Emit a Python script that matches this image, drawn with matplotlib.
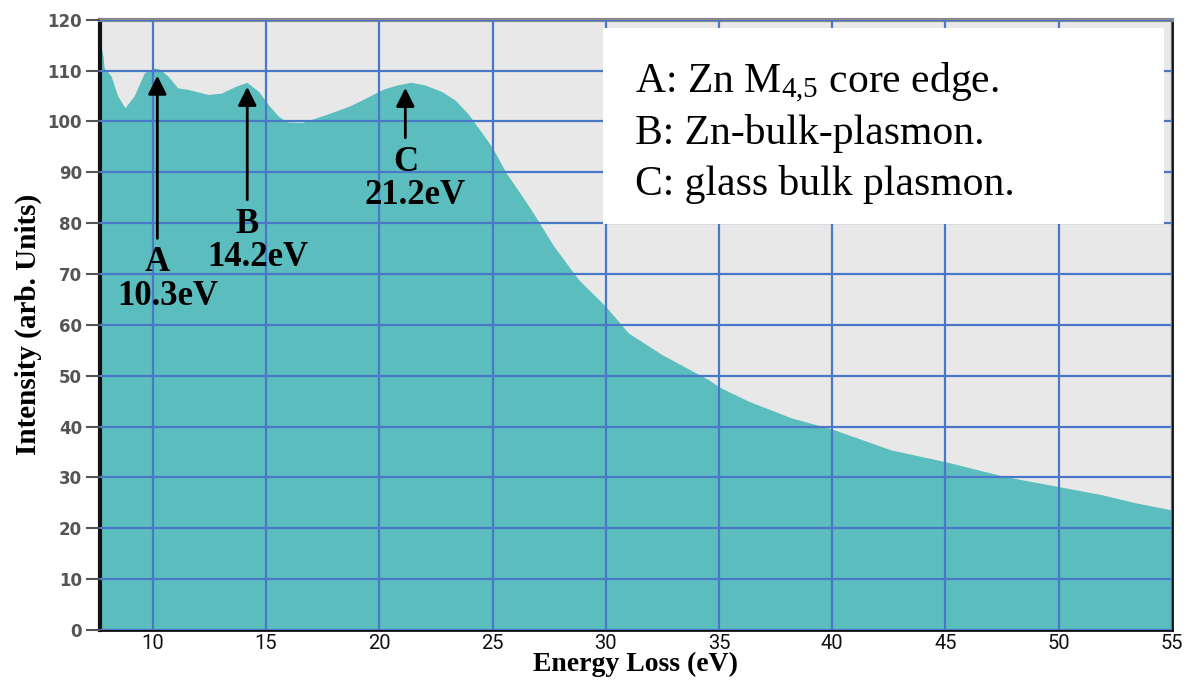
import matplotlib
matplotlib.use("Agg")
import matplotlib.pyplot as plt
from matplotlib.patches import Rectangle

# spectrum (eV, arb. units)
energy = [7.7, 7.8, 7.85, 8.15, 8.45, 8.77, 9.17, 9.63, 10.06, 10.3, 10.67,
          11.1, 11.55, 12.44, 13.04, 13.6, 14.15, 14.67, 15.1, 15.55, 15.93,
          16.6, 17.68, 18.72, 19.4, 20.2, 20.8, 21.4, 22.0, 22.75, 23.35,
          23.94, 24.54, 25.0, 25.6, 26.2, 26.8, 27.7, 28.8, 30.0, 31.0, 32.5,
          34.55, 35.0, 36.3, 38.2, 40.0, 42.6, 45.0, 47.6, 50.0, 51.9, 53.4, 55.0]
intensity = [115, 113, 110.5, 109, 105, 102.7, 105, 109.6, 110.5, 110.3, 108.9,
             106.6, 106.3, 105.3, 105.6, 106.8, 107.7, 105.9, 103.3, 101, 99.9,
             99.8, 101.4, 103.1, 104.6, 106.4, 107.2, 107.7, 107.2, 105.9, 104.2,
             101.4, 97.7, 94.8, 89.9, 86, 82, 75.5, 68.9, 63.6, 58.4, 54.1,
             49.2, 47.8, 45, 41.7, 39.5, 35.4, 33.1, 30.2, 28.2, 26.6, 25, 23.6]

# peak markers: label, value text, peak x, arrow tip y, arrow tail y
peak_names = ["A", "B", "C"]
peak_text = ["10.3eV", "14.2eV", "21.2eV"]
peak_x = [10.2, 14.17, 21.15]
peak_tip = [109.0, 106.8, 106.6]
peak_tail = [77.0, 84.6, 96.8]

legend_lines = [r"A: Zn M$_{4{,}5}$ core edge.",
                "B: Zn-bulk-plasmon.",
                "C: glass bulk plasmon."]

serif = "Liberation Serif"
plt.rcParams["mathtext.fontset"] = "custom"
plt.rcParams["mathtext.rm"] = serif
plt.rcParams["mathtext.it"] = serif

fig = plt.figure(figsize=(11.91, 6.88), dpi=100)
ax = fig.add_axes([0.084, 0.0843, 0.900, 0.887])
ax.set_facecolor("#e8e8e8")

ax.fill_between(energy, intensity, 0, color="#5bbdbd", lw=0, zorder=1)

ax.set_xlim(7.67, 55)
ax.set_ylim(0, 120)
ax.set_xticks(range(10, 56, 5))
ax.set_yticks(range(0, 121, 10))
ax.grid(True, color="#4a78c8", lw=1.6, zorder=2)
ax.set_axisbelow(False)

ax.tick_params(axis="x", length=0, pad=3)
ax.tick_params(axis="y", length=10, width=1.5, color="#555", pad=3)
for lab in ax.get_xticklabels():
    lab.set_family("Roboto")
    lab.set_fontsize(14.5)
    lab.set_color("#111")
for lab in ax.get_yticklabels():
    lab.set_fontweight("bold")
    lab.set_fontsize(12)
    lab.set_color("#555")

ax.spines["left"].set_linewidth(3)
ax.spines["left"].set_color("#111")
ax.spines["bottom"].set_linewidth(2)
ax.spines["bottom"].set_color("#111")
ax.spines["right"].set_linewidth(2)
ax.spines["right"].set_color("#111")
ax.spines["top"].set_linewidth(3)
ax.spines["top"].set_color("#888")

ax.set_xlabel("Energy Loss (eV)", family=serif, fontweight="bold",
              fontsize=20, labelpad=-1)
ax.set_ylabel("Intensity (arb. Units)", family=serif, fontweight="bold",
              fontsize=21, labelpad=4)

for name, val, x, tip, tail in zip(peak_names, peak_text, peak_x, peak_tip, peak_tail):
    ax.annotate("", xy=(x, tip), xytext=(x, tail),
                arrowprops=dict(arrowstyle="-|>", color="k", lw=2,
                                mutation_scale=28, shrinkA=0, shrinkB=0),
                zorder=5)
    ax.text(x, tail - 6.5, name, ha="center", va="baseline", family=serif,
            fontweight="bold", fontsize=25, zorder=5)
    ax.text(x + 0.45, tail - 13.0, val, ha="center", va="baseline", family=serif,
            fontweight="bold", fontsize=25, zorder=5)

# white note box in the upper right
ax.add_patch(Rectangle((0.469, 0.666), 0.524, 0.3205, transform=ax.transAxes,
                       facecolor="white", edgecolor="none", zorder=4))
for i, line in enumerate(legend_lines):
    ax.text(0.4995, 0.897 - i * 0.0835, line, transform=ax.transAxes,
            family=serif, fontsize=30, va="center", ha="left", zorder=5)

fig.savefig("out.png", dpi=100)
